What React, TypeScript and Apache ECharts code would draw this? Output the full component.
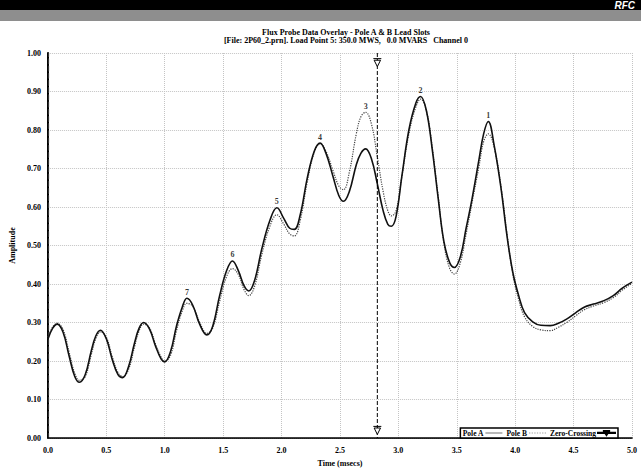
import React, { useEffect, useRef } from "react";
import * as echarts from "echarts";

const times = [
  0.0, 0.04, 0.08, 0.13, 0.18, 0.23, 0.27, 0.32, 0.37, 0.41, 0.45, 0.5, 0.55, 0.6, 0.64, 0.69, 0.74, 0.78, 0.82, 0.87,
  0.92, 0.97, 1.0, 1.05, 1.1, 1.15, 1.19, 1.24, 1.3, 1.36, 1.41, 1.47, 1.53, 1.58, 1.63, 1.68, 1.72, 1.77, 1.83, 1.9,
  1.96, 2.02, 2.07, 2.11, 2.16, 2.22, 2.28, 2.33, 2.38, 2.44, 2.49, 2.53, 2.58, 2.64, 2.68, 2.72, 2.77, 2.82, 2.87, 2.91,
  2.94, 2.98, 3.03, 3.09, 3.15, 3.19, 3.24, 3.29, 3.34, 3.39, 3.44, 3.48, 3.53, 3.58, 3.63, 3.69, 3.73, 3.77, 3.82, 3.88,
  3.93, 3.98, 4.03, 4.08, 4.15, 4.22, 4.3, 4.37, 4.44, 4.52, 4.59, 4.67, 4.76, 4.84, 4.92, 5.0,
];

const poleA = [
  0.257, 0.285, 0.296, 0.275, 0.215, 0.16, 0.145, 0.165, 0.225, 0.265, 0.28, 0.258, 0.205, 0.165, 0.157, 0.185, 0.245, 0.285, 0.3, 0.283,
  0.24, 0.205, 0.198, 0.225, 0.29, 0.34, 0.363, 0.345, 0.295, 0.268, 0.29, 0.37, 0.435, 0.46, 0.435, 0.395, 0.382, 0.41, 0.49, 0.565,
  0.598, 0.57, 0.545, 0.542, 0.58, 0.675, 0.745, 0.766, 0.74, 0.68, 0.63, 0.615, 0.64, 0.71, 0.74, 0.751, 0.725, 0.66, 0.59, 0.555,
  0.55, 0.575, 0.68, 0.8, 0.87, 0.887, 0.85, 0.75, 0.625, 0.51, 0.455, 0.443, 0.47, 0.545, 0.62, 0.723, 0.79, 0.822, 0.76, 0.646,
  0.525, 0.43, 0.37, 0.326, 0.302, 0.293, 0.292, 0.298, 0.309, 0.326, 0.34, 0.348, 0.357, 0.37, 0.39, 0.405,
];

const poleB = [
  0.262, 0.288, 0.298, 0.282, 0.225, 0.168, 0.15, 0.16, 0.215, 0.258, 0.276, 0.262, 0.212, 0.17, 0.16, 0.178, 0.235, 0.278, 0.296, 0.286,
  0.245, 0.21, 0.2, 0.215, 0.278, 0.33, 0.35, 0.342, 0.3, 0.272, 0.285, 0.355, 0.42, 0.44, 0.425, 0.385, 0.37, 0.395, 0.475, 0.55,
  0.58, 0.555, 0.53, 0.525, 0.565, 0.665, 0.742, 0.765, 0.745, 0.695, 0.655, 0.645, 0.69, 0.79, 0.835, 0.846, 0.815, 0.73, 0.64, 0.59,
  0.577, 0.59, 0.68, 0.79, 0.86, 0.88, 0.85, 0.755, 0.63, 0.505, 0.44, 0.426, 0.455, 0.53, 0.61, 0.705, 0.77, 0.79, 0.755, 0.65,
  0.53, 0.425, 0.36, 0.315, 0.29, 0.281, 0.279, 0.288, 0.3, 0.318, 0.333, 0.343, 0.352, 0.365, 0.385, 0.402,
];

const peakTimes = [3.77, 3.19, 2.72, 2.33, 1.96, 1.58, 1.19];
const peakValues = [0.822, 0.887, 0.846, 0.766, 0.598, 0.46, 0.363];
const peakLabels = ["1", "2", "3", "4", "5", "6", "7"];

const zeroCrossingTime = 2.82;

const titleLines = [
  "Flux Probe Data Overlay - Pole A & B Lead Slots",
  "[File: 2P60_2.prn]. Load Point 5: 350.0 MWS,   0.0 MVARS   Channel 0",
];

const FONT = "Liberation Serif";
const TRI = "path://M0,0 L10,0 M1,2 L9,2 L5,10 Z";
const ICON_SOLID = "path://M0,4.3 L40,4.3 L40,5.7 L0,5.7 Z";
const ICON_DOTTED =
  "path://M0,4.4 L3,4.4 L3,5.6 L0,5.6 Z M6,4.4 L9,4.4 L9,5.6 L6,5.6 Z M12,4.4 L15,4.4 L15,5.6 L12,5.6 Z M18,4.4 L21,4.4 L21,5.6 L18,5.6 Z M24,4.4 L27,4.4 L27,5.6 L24,5.6 Z M30,4.4 L33,4.4 L33,5.6 L30,5.6 Z M36,4.4 L39,4.4 L39,5.6 L36,5.6 Z";
const ICON_ZERO =
  "path://M0,4.5 L13,4.5 L13,5.5 L0,5.5 Z M27,4.5 L40,4.5 L40,5.5 L27,5.5 Z M14,0.5 L26,0.5 L26,1.5 L14,1.5 Z M15,2.5 L25,2.5 L20,10 Z M17.5,3.7 L20,7.6 L22.5,3.7 Z";

export default function App() {
  const ref = useRef<HTMLDivElement>(null);
  useEffect(() => {
    if (!ref.current) return;
    const chart = echarts.init(ref.current, null, { renderer: "svg" });
    const aData = times.map((t, i) => [t, poleA[i]]);
    const bData = times.map((t, i) => [t, poleB[i]]);
    const pData = peakTimes.map((t, i) => ({ value: [t, peakValues[i]], name: peakLabels[i] }));
    const zData = [
      { value: [zeroCrossingTime, 1.0], symbol: "none" },
      { value: [zeroCrossingTime, 0.975] },
      { value: [zeroCrossingTime, 0.02] },
      { value: [zeroCrossingTime, 0.0], symbol: "none" },
    ];
    chart.setOption({
      animation: false,
      backgroundColor: "#ffffff",
      textStyle: { fontFamily: FONT },
      title: {
        text: titleLines.join("\n"),
        left: 341,
        top: 23,
        textAlign: "center",
        textStyle: { fontFamily: FONT, fontSize: 8, fontWeight: "bold", color: "#000", lineHeight: 8.5 },
      },
      graphic: [
        { type: "rect", left: 0, top: 0, shape: { width: 641, height: 10 }, style: { fill: "#000" }, silent: true },
        { type: "rect", left: 0, top: 10, shape: { width: 641, height: 11 }, style: { fill: "#8e8e8e" }, silent: true },
        {
          type: "text",
          right: 6,
          top: 0,
          style: { text: "RFC", fill: "#fff", font: "italic bold 10px Liberation Sans" },
          silent: true,
        },
      ],
      legend: {
        right: 23,
        bottom: 34,
        align: "right",
        itemGap: 4,
        itemWidth: 17,
        itemHeight: 6,
        padding: [1, 2],
        borderColor: "#000",
        borderWidth: 1.5,
        backgroundColor: "#fff",
        textStyle: { fontFamily: FONT, fontSize: 7.5, fontWeight: "bold", color: "#000", padding: [0, -3, 0, 0] },
        data: [
          { name: "Pole A", icon: ICON_SOLID },
          { name: "Pole B", icon: ICON_DOTTED },
          { name: "Zero-Crossing", icon: ICON_ZERO },
        ],
      },
      grid: { left: 44, right: 9, top: 53, bottom: 32 },
      xAxis: [
        {
          type: "value",
          min: 0,
          max: 5,
          interval: 0.5,
          name: "Time (msecs)",
          nameLocation: "middle",
          nameGap: 20,
          nameTextStyle: { fontFamily: FONT, fontSize: 8, fontWeight: "bold", color: "#000" },
          axisLine: { show: true, onZero: false, lineStyle: { color: "#777", type: "dotted", width: 1 } },
          axisTick: { show: false },
          axisLabel: {
            formatter: (v: number) => v.toFixed(1),
            fontFamily: FONT,
            fontSize: 8,
            fontWeight: "bold",
            color: "#000",
            margin: 8,
          },
          splitLine: { show: true, lineStyle: { color: "#c4c4c4", type: "dotted", width: 1 } },
        },
        {
          type: "value",
          position: "top",
          min: 0,
          max: 5,
          axisLine: { show: true, lineStyle: { color: "#000", width: 1.5 } },
          axisTick: { show: false },
          axisLabel: { show: false },
          splitLine: { show: false },
        },
      ],
      yAxis: [
        {
          type: "value",
          min: 0,
          max: 1,
          interval: 0.1,
          name: "Amplitude",
          nameLocation: "middle",
          nameGap: 31,
          nameRotate: 90,
          nameTextStyle: { fontFamily: FONT, fontSize: 8, fontWeight: "bold", color: "#000" },
          axisLine: { show: true, onZero: false, lineStyle: { color: "#000", width: 2 } },
          axisTick: { show: false },
          axisLabel: {
            formatter: (v: number) => v.toFixed(2),
            fontFamily: FONT,
            fontSize: 8,
            fontWeight: "bold",
            color: "#000",
            margin: 7,
          },
          splitLine: { show: true, lineStyle: { color: "#c4c4c4", type: "dotted", width: 1 } },
        },
        {
          type: "value",
          position: "right",
          min: 0,
          max: 1,
          axisLine: { show: true, lineStyle: { color: "#333", type: "dashed", width: 1.2 } },
          axisTick: { show: false },
          axisLabel: { show: false },
          splitLine: { show: false },
        },
      ],
      series: [
        {
          name: "Pole A",
          type: "line",
          data: aData,
          smooth: 0.4,
          symbol: "none",
          lineStyle: { color: "#111", width: 1.6, type: "solid" },
          itemStyle: { color: "#111" },
          z: 3,
        },
        {
          name: "Pole B",
          type: "line",
          data: bData,
          smooth: 0.4,
          symbol: "none",
          lineStyle: { color: "#444", width: 1.2, type: "dotted" },
          itemStyle: { color: "#444" },
          z: 2,
        },
        {
          name: "Zero-Crossing",
          type: "line",
          data: zData,
          symbol: TRI,
          symbolSize: [8, 8],
          symbolKeepAspect: true,
          lineStyle: { color: "#000", width: 1, type: "dashed" },
          itemStyle: { color: "#fff", borderColor: "#000", borderWidth: 1 },
          z: 4,
        },
        {
          name: "Peaks",
          type: "scatter",
          data: pData,
          symbolSize: 0,
          itemStyle: { color: "#000" },
          label: {
            show: true,
            position: "top",
            distance: 2,
            formatter: (p: any) => p.name,
            fontFamily: FONT,
            fontSize: 8,
            fontWeight: "bold",
            color: "#000",
          },
          z: 5,
        },
      ],
    });
    return () => chart.dispose();
  }, []);
  return <div ref={ref} style={{ position: "fixed", left: 0, top: 0, width: 641, height: 472 }} />;
}
